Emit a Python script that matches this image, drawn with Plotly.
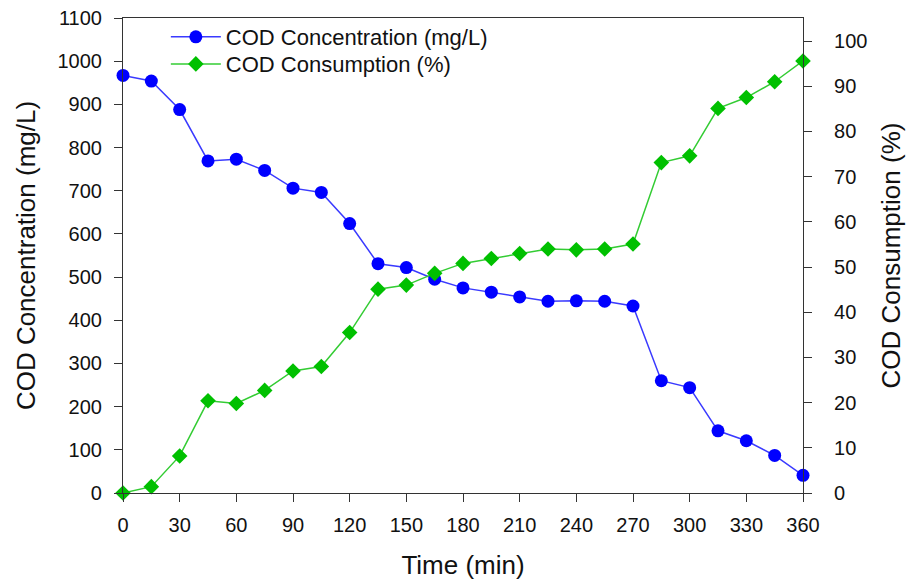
import plotly.graph_objects as go

time_min = [0, 15, 30, 45, 60, 75, 90, 105, 120, 135, 150, 165, 180, 195, 210, 225, 240, 255, 270, 285, 300, 315, 330, 345, 360]
cod_conc = [967, 954, 888, 769, 773, 747, 706, 696, 624, 531, 522, 495, 475, 465, 454, 444, 445, 444, 433, 260, 244, 144, 121, 87, 41]
cod_cons = [0, 1.4, 8.2, 20.4, 19.8, 22.7, 27.0, 28.0, 35.5, 45.1, 46.0, 48.6, 50.8, 51.9, 53.0, 54.0, 53.8, 54.0, 55.1, 73.1, 74.6, 85.1, 87.5, 91.0, 95.6]
x_ticks = [0, 30, 60, 90, 120, 150, 180, 210, 240, 270, 300, 330, 360]
left_ticks = list(range(0, 1101, 100))
right_ticks = list(range(0, 101, 10))

FONT = "Liberation Sans, Arial, sans-serif"

fig = go.Figure()
fig.add_trace(go.Scatter(
    x=time_min, y=cod_conc, name="COD Concentration (mg/L)",
    mode="lines+markers",
    line=dict(color="#3a3aff", width=1.5),
    marker=dict(symbol="circle", size=13, color="#0000ff"),
    cliponaxis=False, legend="legend",
))
fig.add_trace(go.Scatter(
    x=time_min, y=cod_cons, name="COD Consumption (%)", yaxis="y2",
    mode="lines+markers",
    line=dict(color="#33cc33", width=1.5),
    marker=dict(symbol="diamond", size=12, color="#00c000"),
    cliponaxis=False, legend="legend2",
))

axis_common = dict(
    showgrid=False, zeroline=False, showline=True, linecolor="#333333", linewidth=1.2,
    ticks="outside", ticklen=8, tickcolor="#333333", tickwidth=1.2,
    tickfont=dict(family=FONT, size=20, color="#111111"),
    automargin=False,
)

legend_common = dict(xanchor="left", yanchor="middle", bgcolor="rgba(0,0,0,0)",
                     font=dict(family=FONT, size=22, color="#111111"), itemwidth=50)

fig.update_layout(
    width=906, height=585,
    paper_bgcolor="white", plot_bgcolor="white",
    margin=dict(l=123, r=103, t=18, b=92),
    font=dict(family=FONT, color="#111111"),
    showlegend=True,
    legend=dict(x=0.063, y=0.96, **legend_common),
    legend2=dict(x=0.063, y=0.903, **legend_common),
    xaxis=dict(range=[0, 360], tickvals=x_ticks, mirror=True,
               ticklabelstandoff=6,
               title=dict(text="Time (min)", font=dict(family=FONT, size=26), standoff=20),
               **axis_common),
    yaxis=dict(range=[0, 1100], tickvals=left_ticks,
               ticklabelstandoff=8,
               title=dict(text="COD Concentration (mg/L)", font=dict(family=FONT, size=26), standoff=14),
               **axis_common),
    yaxis2=dict(range=[0, 105.1], tickvals=right_ticks, overlaying="y", side="right",
                ticklabelstandoff=18,
                title=dict(text="COD Consumption (%)", font=dict(family=FONT, size=26), standoff=16),
                **axis_common),
)

fig.write_html("out.html", config={"displayModeBar": False},
               post_script="document.body.style.margin='0px';")
